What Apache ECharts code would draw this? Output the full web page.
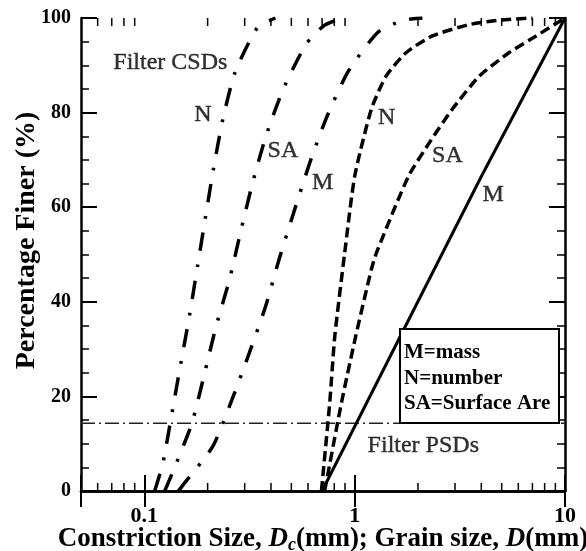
<!DOCTYPE html>
<html><head><meta charset="utf-8">
<script src="https://cdn.jsdelivr.net/npm/echarts@6/dist/echarts.min.js"></script>
<style>html,body{margin:0;padding:0;background:#fff}#c{width:586px;height:551px}</style>
</head><body><div id="c"></div>
<script>
// ---- data (D in mm, percentage finer) ----
const csdN  = [[0.112,0],[0.1227,6.0],[0.1355,16.6],[0.149,26.9],[0.164,37.1],[0.179,47.5],[0.195,57.7],[0.213,68.0],[0.236,78.5],[0.27,88.5],[0.344,97.9],[0.42,100]];
const csdSA = [[0.125,0],[0.1377,4.4],[0.168,14.2],[0.193,24.7],[0.219,34.7],[0.254,44.7],[0.287,54.8],[0.327,65.1],[0.379,75.1],[0.457,84.9],[0.59,94.6],[0.72,98.5],[0.88,100]];
const csdM  = [[0.145,0],[0.153,1.3],[0.212,9.5],[0.261,19.3],[0.315,29.1],[0.377,39.0],[0.438,49.1],[0.515,59.1],[0.612,69.4],[0.734,78.9],[0.929,88.6],[1.29,97.0],[1.7,99.5],[2.1,100]];
const psdN  = [[0.695,0],[0.761,18.6],[0.804,32.6],[0.897,50.4],[1.0,66.5],[1.2,80.7],[1.41,87.7],[1.76,92.7],[2.34,96.2],[3.5,98.6],[5.0,99.6],[7.0,100]];
const psdSA = [[0.72,0],[0.865,18.6],[1.01,32.6],[1.2,46.8],[1.27,50.4],[1.8,66.5],[2.27,73.7],[2.91,80.7],[3.91,87.7],[5.43,92.7],[7.29,96.2],[10,100]];
const psdM  = [[0.7,0],[1.75,35],[4.0,66.5],[10,100]];
const d15Line = [[0.05,14.3],[10,14.3]];
const xTickValues = [0.1,1,10];
const xTickLabels = ['0.1','1','10'];
const xMinorTicks = [0.06,0.07,0.08,0.09,0.2,0.3,0.4,0.5,0.6,0.7,0.8,0.9,2,3,4,5,6,7,8,9];
const annotations = [
  [0.133,90.6,'Filter CSDs'],[0.19,79.6,'N'],[0.456,72.0,'SA'],[0.705,65.2,'M'],
  [1.42,79.0,'N'],[2.76,70.9,'SA'],[4.56,62.7,'M'],[2.12,9.5,'Filter PSDs']
];
const legendLines = ['M=mass','N=number','SA=Surface Area'];

// ---- chart ----
const F = '"Liberation Serif","Times New Roman",serif';
const chart = echarts.init(document.getElementById('c'));
const dashDot = {color:'#000', width:3.5, type:[18,14,3,14], cap:'butt'};
const dashed = {color:'#000', width:3.5, type:[10,5], cap:'butt'};
function lineSeries(data, style){
  return {type:'line', data, showSymbol:false, smooth:0.2, lineStyle:style, silent:true, z:3};
}
function xLabel(v){
  for (let i=0;i<xTickValues.length;i++){
    if (Math.abs(Math.log10(v)-Math.log10(xTickValues[i]))<1e-6) return xTickLabels[i];
  }
  return '';
}
const axisLineStyle = {color:'#000', width:2.5};
const tickStyle = {color:'#000', width:2};
const minorStyle = {color:'#000', width:1.5};
chart.setOption({
  animation:false,
  backgroundColor:'#fff',
  grid:{left:81, top:18, right:21, bottom:60, containLabel:false, outerBoundsMode:'none'},
  xAxis:[
    {type:'log', logBase:10, min:0.05, max:10, position:'bottom',
     axisLine:{lineStyle:axisLineStyle}, axisTick:{inside:true, length:16, lineStyle:tickStyle},
     splitLine:{show:false}, minorTick:{show:false},
     axisLabel:{formatter:xLabel, fontFamily:F, fontSize:22, fontWeight:'bold', color:'#000', margin:14},
     name:'{a|Constriction Size, }{i|D}{s|c}{a|(mm); Grain size, }{i|D}{a|(mm)}',
     nameLocation:'middle', nameGap:33, nameMoveOverlap:false,
     nameTextStyle:{rich:{
       a:{fontFamily:F, fontWeight:'bold', fontSize:27, color:'#000'},
       i:{fontFamily:F, fontWeight:'bold', fontStyle:'italic', fontSize:27, color:'#000'},
       s:{fontFamily:F, fontWeight:'bold', fontStyle:'italic', fontSize:18, color:'#000', padding:[12,0,0,0]}
     }}},
    {type:'log', logBase:10, min:0.05, max:10, position:'top',
     axisLine:{lineStyle:axisLineStyle}, axisTick:{inside:true, length:16, lineStyle:tickStyle},
     splitLine:{show:false}, axisLabel:{show:false}}
  ],
  yAxis:[
    {type:'value', min:0, max:100, interval:20, position:'left',
     axisLine:{show:true, lineStyle:axisLineStyle}, axisTick:{show:true, inside:true, length:16, lineStyle:tickStyle},
     minorTick:{show:true, splitNumber:4, length:8, lineStyle:minorStyle},
     splitLine:{show:false},
     axisLabel:{fontFamily:F, fontSize:20, fontWeight:'bold', color:'#000', margin:10},
     name:'Percentage Finer (%)', nameLocation:'middle', nameGap:40, nameRotate:90, nameMoveOverlap:false,
     nameTextStyle:{fontFamily:F, fontWeight:'bold', fontSize:28, color:'#000', padding:[0,0,0,28]}},
    {type:'value', min:0, max:100, interval:20, position:'right',
     axisLine:{show:true, lineStyle:axisLineStyle}, axisTick:{show:true, inside:true, length:16, lineStyle:tickStyle},
     minorTick:{show:true, splitNumber:4, length:8, lineStyle:minorStyle},
     splitLine:{show:false}, axisLabel:{show:false}}
  ],
  series:[
    {type:'line', data:d15Line, showSymbol:false, silent:true, z:2,
     lineStyle:{color:'#222', width:1.5, type:[14,4,2,4]}},
    lineSeries(csdN, dashDot), lineSeries(csdSA, dashDot), lineSeries(csdM, dashDot),
    lineSeries(psdN, dashed), lineSeries(psdSA, dashed),
    {type:'line', data:psdM, showSymbol:false, silent:true, z:3, lineStyle:{color:'#000', width:3}},
    {type:'custom', data:xMinorTicks.map(v=>[v,0]), silent:true, clip:false, z:4,
     renderItem:function(params, api){
       const v = api.value(0);
       const b = api.coord([v,0]);
       const t = api.coord([v,100]);
       return {type:'group', children:[
         {type:'line', shape:{x1:b[0],y1:b[1],x2:b[0],y2:b[1]-8}, style:{stroke:'#000', lineWidth:1.5}},
         {type:'line', shape:{x1:t[0],y1:t[1],x2:t[0],y2:t[1]+8}, style:{stroke:'#000', lineWidth:1.5}}
       ]};
     }},
    {type:'scatter', data:annotations, symbolSize:1, itemStyle:{color:'rgba(0,0,0,0)'}, silent:true, z:5,
     label:{show:true, position:'inside', formatter:p=>p.data[2], fontFamily:F, fontSize:24, color:'#000',
            textBorderColor:'#000', textBorderWidth:0.4}}
  ],
  graphic:[
    {type:'rect', left:399, top:328, shape:{width:159, height:94}, z:100,
     style:{fill:'#fff', stroke:'#000', lineWidth:2}},
    {type:'text', left:404, top:340, z:101,
     style:{text:legendLines.join('\n'), font:'bold 21px '+F, lineHeight:25.5, fill:'#000',
            width:152, overflow:'truncate', ellipsis:''}}
  ]
});
</script></body></html>
